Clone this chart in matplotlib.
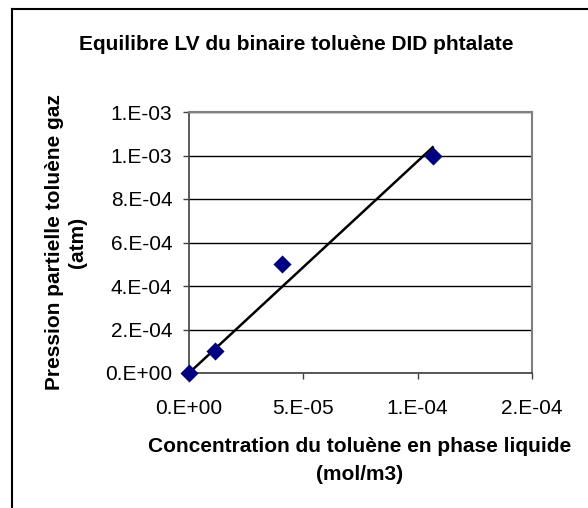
import numpy as np
import matplotlib
matplotlib.use('Agg')
import matplotlib.pyplot as plt
from matplotlib.lines import Line2D
from matplotlib.ticker import FuncFormatter, MultipleLocator

plt.rcParams['font.family'] = ['Liberation Sans', 'DejaVu Sans']

# concentration (mol/m3) and partial pressure (atm)
conc = np.array([0.0, 1.14e-5, 4.08e-5, 1.066e-4])
pression = np.array([0.0, 1.0e-4, 5.0e-4, 1.0e-3])

title = 'Equilibre LV du binaire toluène DID phtalate'
xlabel = 'Concentration du toluène en phase liquide\n(mol/m3)'
ylabel = 'Pression partielle toluène gaz\n(atm)'


def excel_sci(v, pos=None):
    # mimic the "0.E+00" number format
    if v == 0:
        return '0.E+00'
    exp = int(np.floor(np.log10(abs(v)) + 1e-9))
    m = int(np.floor(v / 10**exp + 0.5 + 1e-9))
    if m == 10:
        m, exp = 1, exp + 1
    return '%d.E%+03d' % (m, exp)


W, H = 588, 508
fig = plt.figure(figsize=(W / 100, H / 100), dpi=100)
ax = fig.add_axes([189 / W, 1 - 373 / H, (532 - 189) / W, (373 - 112) / H])

# linear trendline through the origin (least squares)
slope = np.sum(conc * pression) / np.sum(conc ** 2)
xt = np.array([conc.min(), conc.max()])
ax.plot(xt, slope * xt, color='black', lw=1.8, zorder=3)
ax.scatter(conc, pression, marker='D', s=85, color='#000080', zorder=4,
           linewidths=0, clip_on=False)

ax.set_xlim(0, 1.5e-4)
ax.set_ylim(0, 1.2e-3)
ax.xaxis.set_major_locator(MultipleLocator(5e-5))
ax.yaxis.set_major_locator(MultipleLocator(2e-4))
ax.xaxis.set_major_formatter(FuncFormatter(excel_sci))
ax.yaxis.set_major_formatter(FuncFormatter(excel_sci))
ax.yaxis.grid(True, color='black', lw=1)
ax.set_axisbelow(True)
ax.tick_params(labelsize=15, length=4, width=1, color='#404040')
ax.tick_params(axis='y', pad=8)
ax.tick_params(axis='x', pad=15)

for s in ['top', 'right']:
    ax.spines[s].set_color('#808080')
    ax.spines[s].set_linewidth(1.5)
for s in ['left', 'bottom']:
    ax.spines[s].set_color('#404040')
    ax.spines[s].set_linewidth(1.2)

fig.text(296 / W, 1 - 45 / H, title, ha='center', va='center',
         fontsize=15, fontweight='bold')
fig.text(360 / W, 1 - 461 / H, xlabel, ha='center', va='center',
         fontsize=15, fontweight='bold', linespacing=1.6)
fig.text(66 / W, 1 - 242 / H, ylabel, ha='center', va='center',
         fontsize=15, fontweight='bold', rotation=90, linespacing=1.3)

# chart area border (left and top edges visible)
fx, fy = 12 / W, 1 - 9 / H
fig.add_artist(Line2D([fx, fx], [0, fy], color='black', lw=1.5))
fig.add_artist(Line2D([fx, 1], [fy, fy], color='black', lw=1.5))

fig.savefig('out.png', dpi=100)
